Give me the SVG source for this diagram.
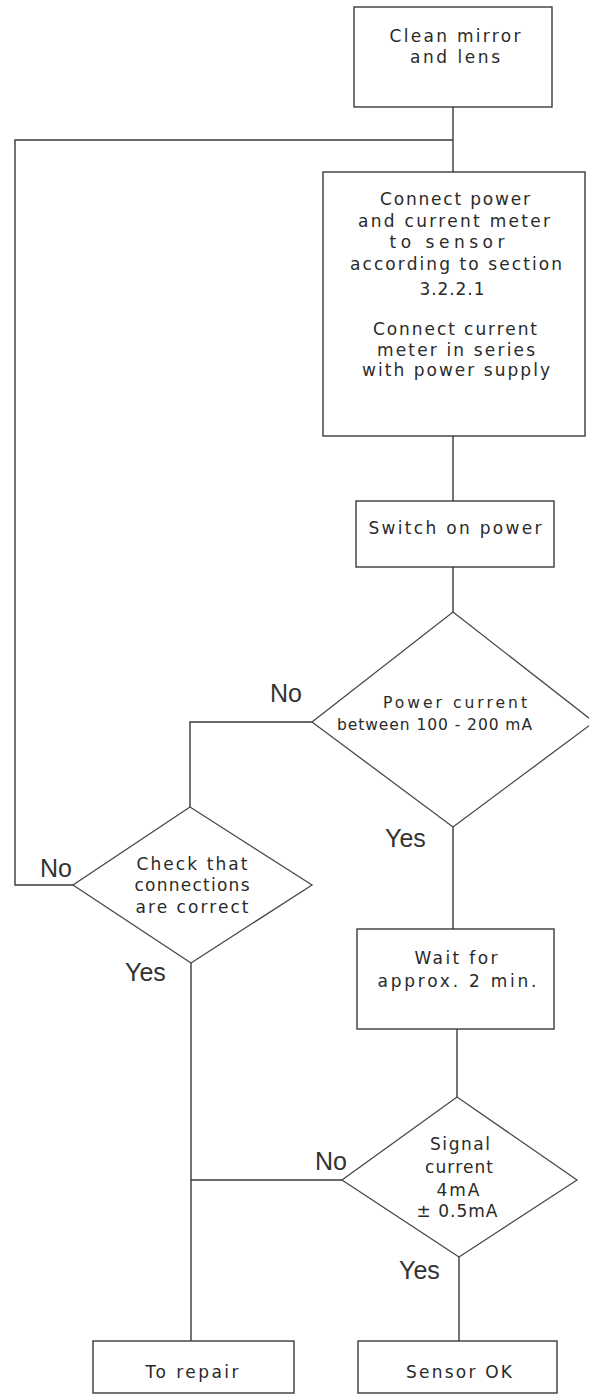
<svg xmlns="http://www.w3.org/2000/svg" width="589" height="1395" viewBox="0 0 589 1395">
<style>
.box{fill:#fff;stroke:#3a3a3a;stroke-width:1.4}
.dia{fill:#fff;stroke:#4a4a4a;stroke-width:1.3}
.con{fill:none;stroke:#3a3a3a;stroke-width:1.4}
.t{font-family:"DejaVu Sans","Liberation Sans",sans-serif;font-size:17px;fill:#2a2a2a;text-anchor:middle}
.s{font-size:15.5px}
.lbl{font-family:"Liberation Sans",Arial,sans-serif;font-size:25px;fill:#333;text-anchor:start}
</style>
<rect width="589" height="1395" fill="#fff"/>
<g id="connectors">
<polyline class="con" points="453,107 453,172"/>
<polyline class="con" points="453,140 15,140 15,885 73,885"/>
<polyline class="con" points="453,436 453,501"/>
<polyline class="con" points="453,567 453,612"/>
<polyline class="con" points="312,722 190,722 190,807"/>
<polyline class="con" points="453,827 453,929"/>
<polyline class="con" points="457,1029 457,1097"/>
<polyline class="con" points="191,963 191,1341"/>
<polyline class="con" points="342,1180 191,1180"/>
<polyline class="con" points="459,1257 459,1341"/>
</g>
<g id="n1">
<rect class="box" x="354" y="7" width="198" height="100"/>
<text class="t" x="455" y="42" textLength="131" lengthAdjust="spacing">Clean mirror</text>
<text class="t" x="455" y="63" textLength="90" lengthAdjust="spacing">and lens</text>
</g>
<g id="n2">
<rect class="box" x="323" y="172" width="262" height="264"/>
<text class="t" x="455" y="205" textLength="150" lengthAdjust="spacing">Connect power</text>
<text class="t" x="454" y="227" textLength="192" lengthAdjust="spacing">and current meter</text>
<text class="t" x="447" y="248" textLength="115" lengthAdjust="spacing">to sensor</text>
<text class="t" x="456" y="270" textLength="212" lengthAdjust="spacing">according to section</text>
<text class="t" x="452" y="295" textLength="65" lengthAdjust="spacing">3.2.2.1</text>
<text class="t" x="455" y="335" textLength="164" lengthAdjust="spacing">Connect current</text>
<text class="t" x="456" y="356" textLength="158" lengthAdjust="spacing">meter in series</text>
<text class="t" x="456" y="376" textLength="188" lengthAdjust="spacing">with power supply</text>
</g>
<g id="n3">
<rect class="box" x="356" y="501" width="198" height="66"/>
<text class="t" x="455" y="534" textLength="173" lengthAdjust="spacing">Switch on power</text>
</g>
<g id="d1">
<polygon class="dia" points="453,612 594,722 453,827 312,722"/>
<text class="t s" x="455" y="708" textLength="144" lengthAdjust="spacing">Power current</text>
<text class="t s" x="434.5" y="730" textLength="195" lengthAdjust="spacing">between 100 - 200 mA</text>
</g>
<g id="d2">
<polygon class="dia" points="190,807 312,885 191,963 73,885"/>
<text class="t" x="192" y="870" textLength="111" lengthAdjust="spacing">Check that</text>
<text class="t" x="192" y="891" textLength="115" lengthAdjust="spacing">connections</text>
<text class="t" x="192" y="913" textLength="113" lengthAdjust="spacing">are correct</text>
</g>
<g id="n4">
<rect class="box" x="357" y="929" width="197" height="100"/>
<text class="t" x="456" y="964" textLength="83" lengthAdjust="spacing">Wait for</text>
<text class="t" x="457" y="987" textLength="159" lengthAdjust="spacing">approx. 2 min.</text>
</g>
<g id="d3">
<polygon class="dia" points="457,1097 577,1180 459,1257 342,1180"/>
<text class="t" x="460" y="1150" textLength="60" lengthAdjust="spacing">Signal</text>
<text class="t" x="459" y="1173" textLength="68" lengthAdjust="spacing">current</text>
<text class="t" x="458" y="1196" textLength="43" lengthAdjust="spacing">4mA</text>
<text class="t" x="457" y="1217" textLength="81" lengthAdjust="spacing">± 0.5mA</text>
</g>
<g id="n5">
<rect class="box" x="93" y="1341" width="201" height="52"/>
<text class="t" x="192" y="1378" textLength="93" lengthAdjust="spacing">To repair</text>
</g>
<g id="n6">
<rect class="box" x="358" y="1341" width="199" height="52"/>
<text class="t" x="459" y="1378" textLength="106" lengthAdjust="spacing">Sensor OK</text>
</g>
<g id="labels">
<text class="lbl" x="270" y="702">No</text>
<text class="lbl" x="385" y="847">Yes</text>
<text class="lbl" x="40" y="877">No</text>
<text class="lbl" x="125" y="981">Yes</text>
<text class="lbl" x="315" y="1170">No</text>
<text class="lbl" x="399" y="1279">Yes</text>
</g>
</svg>
